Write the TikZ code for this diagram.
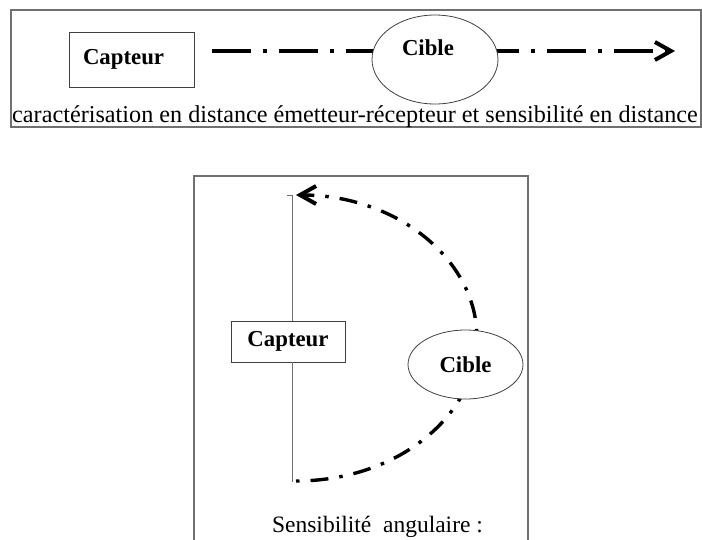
\documentclass[tikz,border=0pt]{standalone}
\usepackage{fontspec}
\setmainfont{Liberation Serif}
\usetikzlibrary{arrows.meta,positioning,shapes.geometric}
\definecolor{Frame}{HTML}{707070}
\definecolor{Edge}{HTML}{404040}

\begin{document}
\begin{tikzpicture}[x=1pt, y=-1pt, every node/.style={font=\fontsize{24.2}{28}\selectfont}, frame/.style={draw=Frame, line width=1.3pt}, box/.style={draw=Edge, line width=0.8pt, fill=white, inner sep=0pt, font=\fontsize{22.8}{26}\selectfont\bfseries}, target/.style={ellipse, draw=Edge, line width=0.8pt, fill=white, inner sep=0pt, font=\fontsize{22.8}{26}\selectfont\bfseries}, track/.style={line width=3.6pt, dash pattern=on 39pt off 12pt on 4pt off 12pt}, sweep/.style={line width=3.4pt, dash pattern=on 3.5pt off 11pt on 18pt off 11pt}, barb/.style={-{Straight Barb[length=16pt, width=18pt, line width=4pt]}}]
\useasboundingbox (0,0) rectangle (702,539);
% distance
\draw[frame] (11,10) rectangle (701,127);
\node[box, minimum width=125pt, minimum height=55pt, text width=97pt, inner xsep=14pt, align=left] (cap1) at (131.5,59.5) {Capteur};
\coordinate (d0) at (212,51);
\coordinate (d1) at (675,51);
\draw[track, barb] (d0) -- (d1);
\node[target, minimum width=126pt, minimum height=89pt, text width=66pt, text depth=24pt, align=left] (cib1) at (435,59.5) {Cible};
\node[anchor=base] (txt1) at (355,122) {caractérisation en distance émetteur-récepteur et sensibilité en distance};
% angle
\draw[frame] (194,545) -- (194,176) -- (528,176) -- (528,545);
\node[box, minimum width=114pt, minimum height=41pt] (cap2) at (288,341.5) {Capteur};
\coordinate (v0) at (292,482);
\coordinate (v1) at (292,195);
\draw[draw=Frame, line width=1pt] ([xshift=-5pt]v1) -- (v1) -- (v1 |- cap2.north);
\draw[draw=Frame, line width=1pt] (v0 |- cap2.south) -- (v0);
\coordinate (a0) at (296,481);
\draw[sweep, barb] (a0) arc[start angle=90, end angle=-90, x radius=181, y radius=143];
\node[target, minimum width=115pt, minimum height=69pt] (cib2) at (465.5,364.5) {Cible};
\node[anchor=base, font=\fontsize{23.5}{27}\selectfont] (txt2) at (377.5,532) {Sensibilité\ \ angulaire :};
\end{tikzpicture}
\end{document}
